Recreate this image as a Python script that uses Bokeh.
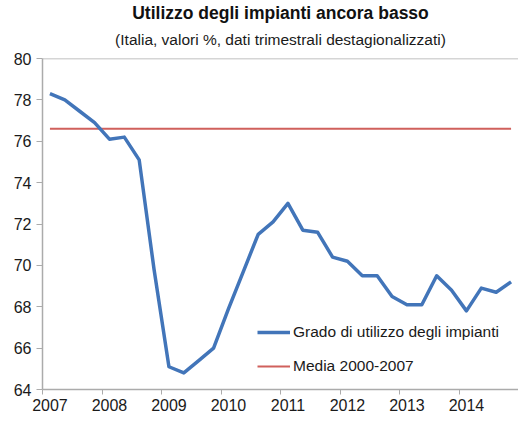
from bokeh.plotting import figure
from bokeh.models import Range1d, FixedTicker, Span, Title, Legend, LegendItem
from bokeh.embed import file_html
from bokeh.resources import INLINE

# ---- data ----
years = [2007, 2008, 2009, 2010, 2011, 2012, 2013, 2014]
year_labels = ["2007", "2008", "2009", "2010", "2011", "2012", "2013", "2014"]
quarters = [1, 2, 3, 4]
utilizzo = [
    78.3, 78.0, 77.45, 76.9,   # 2007
    76.1, 76.2, 75.1, 69.8,    # 2008
    65.1, 64.8, 65.4, 66.0,    # 2009
    67.9, 69.7, 71.5, 72.1,    # 2010
    73.0, 71.7, 71.6, 70.4,    # 2011
    70.2, 69.5, 69.5, 68.5,    # 2012
    68.1, 68.1, 69.5, 68.8,    # 2013
    67.8, 68.9, 68.7, 69.2,    # 2014
]
media_value = 76.6
y_ticks = [64, 66, 68, 70, 72, 74, 76, 78, 80]

title_text = "Utilizzo degli impianti ancora basso"
subtitle_text = "(Italia, valori %, dati trimestrali destagionalizzati)"
series_name = "Grado di utilizzo degli impianti"
media_name = "Media 2000-2007"

# quarter centres on a continuous year axis
x_q = [y + (q - 0.5) / 4 for y in years for q in quarters]
media = [media_value] * len(x_q)

FONT = "Liberation Sans"
AXIS_COL = "#ABABAB"
TEXT_COL = "#1A1A1A"

p = figure(width=518, height=413,
           x_range=Range1d(years[0], years[-1] + 1),
           y_range=Range1d(y_ticks[0], y_ticks[-1]),
           output_backend="svg", toolbar_location=None,
           title=title_text,
           min_border_left=42, min_border_right=0,
           min_border_top=0, min_border_bottom=0)

p.background_fill_color = "white"
p.border_fill_color = "white"
p.outline_line_color = None
p.xgrid.visible = False
p.ygrid.visible = False

# titles (main on top, subtitle just above the plot)
p.title.text_font = FONT
p.title.text_font_size = "17.5px"
p.title.text_font_style = "bold"
p.title.text_color = "#111111"
p.title.align = "center"
p.title.vertical_align = "bottom"
p.title.text_line_height = 0.7
p.title.standoff = 0
p.title.offset = 0
p.add_layout(Title(text=subtitle_text, text_font=FONT, text_font_size="15.5px",
                   text_font_style="normal", text_color=TEXT_COL,
                   align="center", vertical_align="top", standoff=17),
             "above")

# top line at 80
p.add_layout(Span(location=y_ticks[-1], dimension="width",
                  line_color=AXIS_COL, line_width=1.5))

r_media = p.line(x_q, media, line_color="#D0605C", line_width=2)
r_util = p.line(x_q, utilizzo, line_color="#4275B9", line_width=3.5,
                line_join="round")

legend = Legend(items=[LegendItem(label=series_name, renderers=[r_util]),
                       LegendItem(label=media_name, renderers=[r_media])],
                location=(215, 13), border_line_color=None,
                background_fill_alpha=0, padding=0, margin=0,
                spacing=14, glyph_width=33, glyph_height=20,
                label_height=20, label_standoff=3,
                label_text_font=FONT, label_text_font_size="15.5px",
                label_text_color=TEXT_COL)
p.add_layout(legend)

# y axis
ya = p.yaxis[0]
ya.ticker = FixedTicker(ticks=y_ticks)
ya.axis_line_color = AXIS_COL
ya.axis_line_width = 1.5
ya.major_tick_line_color = AXIS_COL
ya.major_tick_out = 6
ya.major_tick_in = 0
ya.minor_tick_line_color = None
ya.major_label_standoff = 5
ya.major_label_text_font = FONT
ya.major_label_text_font_size = "16px"
ya.major_label_text_color = TEXT_COL

# x axis: labels under first quarter, tick marks at year boundaries
xa = p.xaxis[0]
xa.ticker = FixedTicker(ticks=[y + 0.125 for y in years],
                        minor_ticks=years + [years[-1] + 1])
xa.major_label_overrides = {y + 0.125: lab for y, lab in zip(years, year_labels)}
xa.axis_line_color = AXIS_COL
xa.axis_line_width = 1.5
xa.major_tick_line_color = None
xa.major_tick_out = 5
xa.major_tick_in = 0
xa.minor_tick_line_color = AXIS_COL
xa.minor_tick_out = 5
xa.minor_tick_in = 0
xa.major_label_standoff = 4
xa.major_label_text_font = FONT
xa.major_label_text_font_size = "16px"
xa.major_label_text_color = TEXT_COL

open("out.html", "w").write(file_html(p, INLINE))
